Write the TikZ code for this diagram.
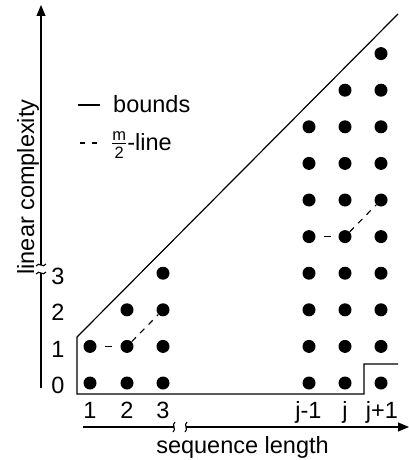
\documentclass[tikz,border=0pt]{standalone}
\usepackage{amsmath}
\usepackage{fontspec}
\setmainfont{Liberation Sans}
\usetikzlibrary{arrows.meta}
\begin{document}
\begin{tikzpicture}[x=1pt,y=-1pt,
  font=\fontsize{23.5}{28}\selectfont,
  dot/.style={circle,fill=black,inner sep=0pt,minimum size=13pt},
  axis/.style={line width=1.1pt},
  bound/.style={line width=1.2pt},
  mline/.style={line width=1.1pt,dash pattern=on 6pt off 6pt},
  mhline/.style={line width=1.1pt,dash pattern=on 7pt off 8.5pt,dash phase=7pt},
  lbl/.style={anchor=base,inner sep=0pt},
  tip/.style={-{Triangle[length=11pt,width=9pt]}}
]
\useasboundingbox (0,0) rectangle (409,460);

% dots
\foreach \c/\x/\t in {1/90/1, 2/127/2, 3/163/3, 7/309/7, 8/345/8, 9/381/9}{
  \foreach \r in {0,...,\t}{
    \node[dot] (d\c-\r) at (\x,{383-36.6*\r}) {};
  }
}

% m/2 lines
\draw[mhline] (d1-1) -- (d2-1);
\draw[mline] (d2-1) -- (d3-2);
\draw[mhline] (d7-4) -- (d8-4);
\draw[mline] (d8-4) -- (d9-5);

% bounds
\coordinate (b1) at (77,394);
\coordinate (b2) at (77,337);
\coordinate (b3) at (398,14);
\coordinate (b4) at (364,394);
\coordinate (b5) at (364,364);
\coordinate (b6) at (398,364);
\draw[bound] (b3) -- (b2) -- (b1) -- (b4) -- (b5) -- (b6);

% y axis
\coordinate (yaB) at (41,388);
\coordinate (yaG1) at (41,273);
\coordinate (yaG2) at (41,265);
\coordinate (yaT) at (41,5);
\draw[axis] (yaB) -- (yaG1);
\draw[axis,tip] (yaG2) -- (yaT);
\draw[axis] (36,274) .. controls (39,269) and (43,277) .. (46,272);
\draw[axis] (36,266) .. controls (39,261) and (43,269) .. (46,264);

% x axis
\coordinate (xaL) at (83,427);
\coordinate (xaG1) at (174,427);
\coordinate (xaG2) at (186,427);
\coordinate (xaR) at (409,427);
\draw[axis] (xaL) -- (xaG1);
\draw[axis,tip] (xaG2) -- (xaR);
\draw[axis] (175,422) .. controls (171,425) and (177,429) .. (173,432);
\draw[axis] (187,422) .. controls (183,425) and (189,429) .. (185,432);

% tick labels
\node[lbl] (yt0) at (58,393.9) {0};
\node[lbl] (yt1) at (58,357.3) {1};
\node[lbl] (yt2) at (58,320.7) {2};
\node[lbl] (yt3) at (58,284.1) {3};
\node[lbl] (xt1) at (90,418) {1};
\node[lbl] (xt2) at (127,418) {2};
\node[lbl] (xt3) at (163,418) {3};
\node[lbl] (xt7) at (308.5,418) {j-1};
\node[lbl] (xt8) at (345,418) {j};
\node[lbl] (xt9) at (382,418) {j+1};

% axis labels
\node[lbl,rotate=90] (ylab) at (34,187) {linear complexity};
\node[lbl] (xlab) at (242.5,453) {sequence length};

% legend
\coordinate (l1a) at (78,105);
\coordinate (l1b) at (100,105);
\draw[bound] (l1a) -- (l1b);
\node[anchor=base west,inner sep=0pt] (lt1) at (113,112) {bounds};
\coordinate (l2a) at (80,143);
\coordinate (l2b) at (97,143);
\draw[line width=1.1pt,dash pattern=on 5pt off 7pt] (l2a) -- (l2b);
\node[anchor=base west,inner sep=0pt] (lt2) at (111,150) {$\frac{\text{m}}{\text{2}}$-line};
\end{tikzpicture}
\end{document}
